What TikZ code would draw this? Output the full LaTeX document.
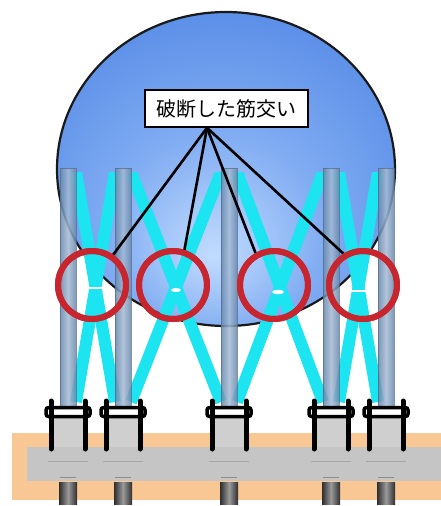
\documentclass[tikz,border=0pt]{standalone}
\usepackage{fontspec}
\newfontfamily\jpfont{Noto Sans CJK JP}

\definecolor{sphlight}{HTML}{C2DCFF}
\definecolor{sphmid}{HTML}{80ACF2}
\definecolor{sphdark}{HTML}{3F78E0}
\definecolor{bracecyan}{HTML}{1CE4F0}
\definecolor{coledge}{HTML}{6787AD}
\definecolor{colmid}{HTML}{A4BAD4}
\definecolor{ringred}{HTML}{C8262E}
\definecolor{sand}{HTML}{F9C793}
\definecolor{slab}{HTML}{C5C5C5}
\definecolor{pedestal}{HTML}{CFCFCF}
\definecolor{boltdark}{HTML}{2E2E2E}
\definecolor{boltlight}{HTML}{9A9A9A}

% tank shell: light centre slightly below the middle
\pgfdeclareradialshading{spherefill}{\pgfpoint{-2bp}{-14bp}}{%
  color(0bp)=(sphlight); color(16bp)=(sphmid); color(44bp)=(sphdark); color(60bp)=(sphdark)}

\tikzset{
  brace/.style={bracecyan, line width=12pt},
  ring/.style={circle, draw=ringred, line width=6pt, minimum size=68pt, inner sep=0pt},
  leader/.style={black, line width=2.6pt},
  labelbox/.style={draw=black, line width=1.6pt, fill=white, minimum width=163pt,
    minimum height=37pt, inner sep=0pt, font=\jpfont\fontsize{20}{20}\selectfont},
  colbody/.style={left color=coledge, right color=coledge, middle color=colmid, opacity=.85},
}

\begin{document}
\begin{tikzpicture}[x=1pt,y=-1pt]
\useasboundingbox (0,0) rectangle (441,506);
\fill[white] (0,0) rectangle (441,506);

% foundation: sand bed, concrete slab, pedestals and anchor bolts
\fill[sand] (12,433) rectangle (441,500);
\fill[slab] (27,447) rectangle (441,481);
\foreach \c in {68,123,229,331,386} {
  \fill[pedestal] (\c-16,414) rectangle (\c+16,447);
  \draw[black!35, line width=.6pt] (\c-20,461) -- (\c+20,461);
  \draw[black!45, line width=.6pt] (\c-8,477) -- (\c+8,477);
  \shade[left color=boltdark, right color=boltdark, middle color=boltlight]
    (\c-9,482) rectangle (\c+9,504);
}

% spherical tank
\shade[shading=spherefill] (226,169) ellipse [x radius=169pt, y radius=157pt];
\draw[black!90, line width=2.2pt] (226,169) ellipse [x radius=169pt, y radius=157pt];

% cross bracing between neighbouring legs
\foreach \a/\b in {68/123,123/229,229/331,331/386} {
  \pgfmathsetmacro\xm{(\a+\b)/2}
  \begin{scope}
    \clip (\a,172) rectangle (\b,406);
    \draw[brace] (\a+8,172) -- (\xm,287) -- (\b-8,402);
    \draw[brace] (\b-8,172) -- (\xm,287) -- (\a+8,402);
  \end{scope}
}
% fractures at the brace crossings
\draw[white, line width=1.8pt] (86,288) -- (104,288);
\draw[white, line width=1.8pt] (349,291) -- (368,291);
\fill[white] (176,290) ellipse [x radius=5pt, y radius=2pt];
\fill[white] (278,292) ellipse [x radius=6pt, y radius=2.2pt];

% legs
\foreach \c in {68,123,229,331,386} {
  \shade[colbody] (\c-8,168) rectangle (\c+8,408);
  \draw[coledge!80!black, line width=.8pt, opacity=.7] (\c-8,168) rectangle (\c+8,408);
}

% base plates with clamps
\foreach \c in {68,123,229,331,386} {
  \draw[black, line width=3.5pt, fill=white, rounded corners=2.5pt] (\c-22,407.5) rectangle (\c+22,416.5);
  \draw[black, line width=5pt, line cap=round] (\c-17,401) -- (\c-17,449);
  \draw[black, line width=5pt, line cap=round] (\c+17,401) -- (\c+17,449);
}

% callout
\node[labelbox] (lab) at (226.5,108.5) {破断した筋交い};
\coordinate (hub) at ([xshift=-19.5pt]lab.south);

\node[ring] (k1) at (92,285) {};
\node[ring] (k2) at (173,285) {};
\node[ring] (k3) at (274,285) {};
\node[ring] (k4) at (363,285) {};

\draw[leader] (hub) -- (k1.55);
\draw[leader] (hub) -- (k2.72);
\draw[leader] (hub) -- (k3.120);
\draw[leader] (hub) -- (k4.122);

% redraw rings over the leader ends
\foreach \n/\x in {k1/92,k2/173,k3/274,k4/363}
  \draw[ringred, line width=6pt] (\x,285) circle [radius=34pt];
\end{tikzpicture}
\end{document}
